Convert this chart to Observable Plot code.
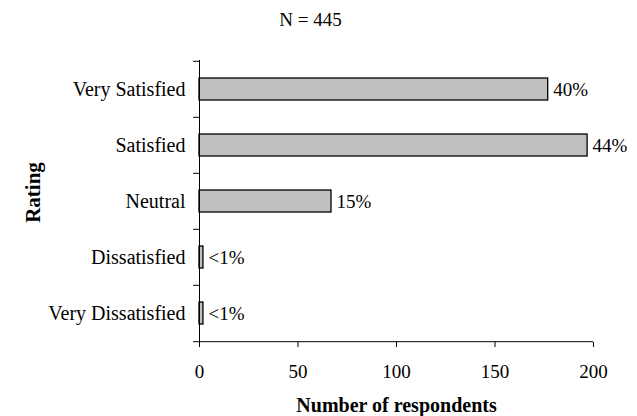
<!DOCTYPE html>
<html>
<head>
<meta charset="utf-8">
<script src="https://cdn.jsdelivr.net/npm/d3@7"></script>
<script src="https://cdn.jsdelivr.net/npm/@observablehq/plot@0.6"></script>
<style>
  html, body { margin: 0; padding: 0; background: #fff; }
</style>
</head>
<body>
<div id="chart"></div>
<script>
// Satisfaction ratings, top to bottom
const ratings = ["Very Satisfied", "Satisfied", "Neutral", "Dissatisfied", "Very Dissatisfied"];
const counts = [177, 197, 67, 2, 2];
const shareLabels = ["40%", "44%", "15%", "<1%", "<1%"];
const xTicks = [0, 50, 100, 150, 200];

const data = ratings.map((rating, i) => ({rating, count: counts[i], share: shareLabels[i]}));
const total = d3.sum(counts);

const marginTop = 60, marginBottom = 74, height = 416;
const padInner = 0.6, padOuter = 0.3;
const step = (height - marginTop - marginBottom) / (ratings.length - padInner + 2 * padOuter);

const chart = Plot.plot({
  width: 637,
  height,
  marginLeft: 199,
  marginRight: 44,
  marginTop,
  marginBottom,
  style: {fontFamily: "'Liberation Serif', 'Times New Roman', serif", fontSize: "19px", color: "black", background: "white"},
  x: {domain: [0, 200], label: null},
  y: {domain: ratings, paddingInner: padInner, paddingOuter: padOuter, label: null},
  marks: [
    Plot.barX(data, {x: "count", y: "rating", fill: "#c0c0c0", stroke: "black", strokeWidth: 1.3}),
    Plot.text(data, {x: "count", y: "rating", text: "share", textAnchor: "start", dx: 5, fill: "black"}),
    // axis lines and category boundary ticks
    Plot.ruleX([0], {stroke: "black"}),
    Plot.ruleY(ratings, {y: d => d, x1: -3, x2: 0, dy: -step / 2, stroke: "black"}),
    Plot.ruleY([ratings[ratings.length - 1]], {y: d => d, x1: -3, x2: 200, dy: step / 2, stroke: "black"}),
    Plot.axisY({tickSize: 0, tickPadding: 14, fontSize: 20, fill: "black"}),
    Plot.axisX({ticks: xTicks, tickSize: 5, tickPadding: 17, stroke: "black", fill: "black"}),
    // titles
    Plot.text([`N = ${total}`], {frameAnchor: "top", textAnchor: "middle", lineAnchor: "middle", dx: -86, dy: -41, fill: "black"}),
    Plot.text(["Rating"], {frameAnchor: "left", textAnchor: "middle", lineAnchor: "middle", rotate: -90, dx: -166, dy: -9, fontSize: 21, fontWeight: "bold", fill: "black"}),
    Plot.text(["Number of respondents"], {frameAnchor: "bottom", textAnchor: "middle", lineAnchor: "middle", dy: 63, fontSize: 20, fontWeight: "bold", fill: "black"})
  ]
});

document.getElementById("chart").append(chart);
</script>
</body>
</html>
